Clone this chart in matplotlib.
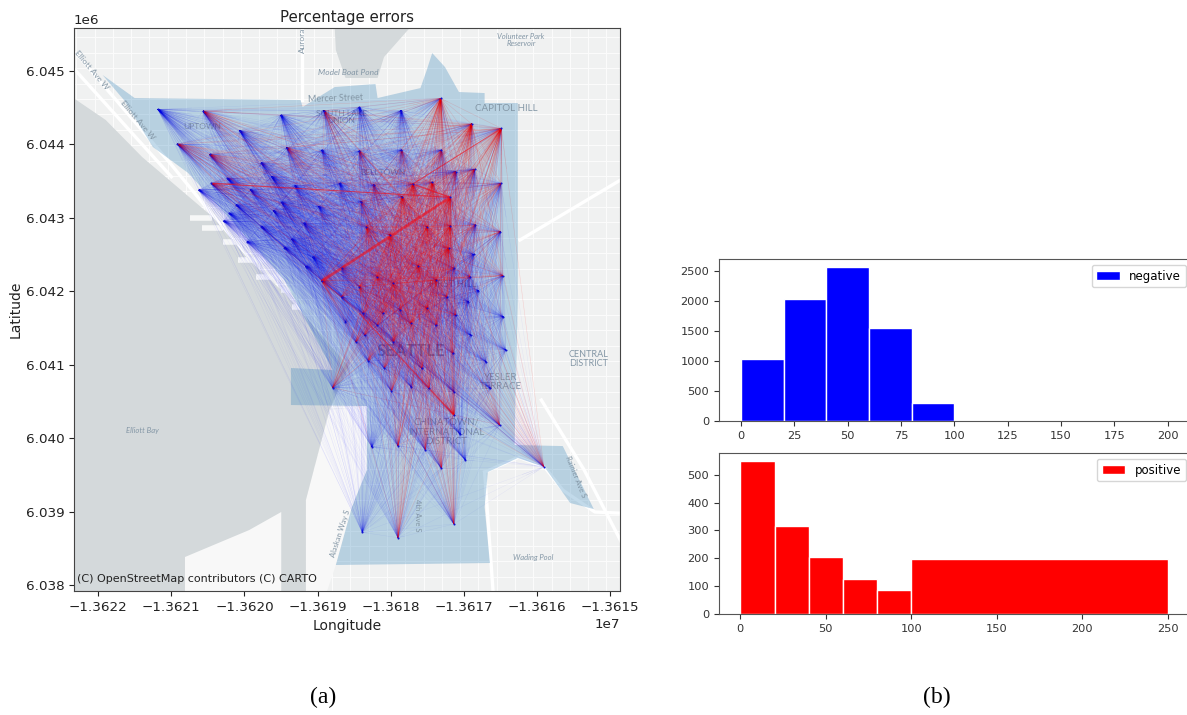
import numpy as np
import matplotlib
matplotlib.use("Agg")
import matplotlib.pyplot as plt
from matplotlib.collections import LineCollection
from matplotlib.patches import Polygon

W, H = 1187, 715

# station nodes (web mercator metres), err 0/1/2 = how much the station shows positive error
node_lon = [-13621185, -13620566, -13619502, -13618911, -13618428, -13617857, -13617316, -13620063, -13616891, -13616486,
            -13620917, -13620478, -13619419, -13618941, -13618428, -13617852, -13617306, -13619770, -13617111, -13616852,
            -13620453, -13620624, -13620234, -13619917, -13619624, -13619307, -13618697, -13618233, -13617696, -13617428,
            -13616491, -13620112, -13619492, -13618980, -13618404, -13617843, -13617184, -13620209, -13620283, -13619599,
            -13619185, -13619770, -13619965, -13619355, -13619453, -13619063, -13619160, -13618941, -13618672, -13618013,
            -13617501, -13617184, -13616842, -13616501, -13618331, -13617208, -13616867, -13617623, -13617135, -13616915,
            -13616466, -13617379, -13617233, -13616940, -13616803, -13617501, -13617111, -13616462, -13618428, -13618184,
            -13618672, -13617867, -13618379, -13617965, -13618794, -13618306, -13618087, -13617574, -13617965, -13617721,
            -13617379, -13617145, -13616906, -13616696, -13616427, -13617135, -13617989, -13617721, -13617477, -13617135,
            -13616637, -13616510, -13618257, -13617901, -13617525, -13617306, -13617047, -13616979, -13615905, -13618389,
            -13617901, -13617135, -13618477, -13618355, -13618184, -13618623, -13618111]
node_lat = [6044478, 6044456, 6044401, 6044460, 6044506, 6044460, 6044628, 6044188, 6044279, 6044219,
            6044006, 6043865, 6043956, 6043924, 6043911, 6043924, 6043924, 6043752, 6043629, 6043661,
            6043470, 6043380, 6043538, 6043380, 6043561, 6043439, 6043470, 6043448, 6043461, 6043484,
            6043470, 6043175, 6043212, 6043153, 6043221, 6043289, 6043280, 6043062, 6042957, 6043094,
            6042926, 6042880, 6042676, 6042708, 6042594, 6042463, 6042335, 6042140, 6042313, 6042767,
            6042880, 6042889, 6042903, 6042812, 6042880, 6042585, 6042503, 6042344, 6042313, 6042199,
            6042213, 6042154, 6041927, 6041859, 6042009, 6041768, 6041677, 6041654, 6042063, 6042199,
            6041927, 6041745, 6041700, 6042108, 6040687, 6041050, 6040950, 6040950, 6041313, 6041563,
            6041540, 6041155, 6041404, 6041041, 6041200, 6040632, 6040642, 6040701, 6040678, 6040315,
            6040678, 6040178, 6039883, 6039897, 6039838, 6039588, 6040051, 6039702, 6039611, 6038717,
            6038644, 6038830, 6041313, 6041404, 6041540, 6041586, 6041699]
node_err = [0, 1, 0, 1, 0, 0, 2, 0, 2, 2,
            1, 1, 1, 0, 1, 1, 1, 0, 1, 1,
            1, 0, 0, 0, 0, 0, 0, 1, 2, 2,
            1, 0, 0, 0, 1, 2, 2, 0, 0, 0,
            0, 0, 0, 0, 0, 0, 0, 2, 1, 2,
            2, 2, 1, 1, 2, 2, 0, 2, 1, 1,
            1, 2, 1, 0, 0, 2, 1, 0, 2, 2,
            1, 1, 1, 2, 1, 1, 1, 1, 1, 2,
            1, 1, 0, 0, 0, 0, 1, 0, 1, 2,
            0, 1, 0, 1, 1, 1, 0, 0, 1, 0,
            1, 1, 1, 1, 1, 0, 1]

# links that stand out on the map
strong_a = [(-13617184, 6043280), (-13617184, 6043280), (-13616486, 6044219), (-13620453, 6043470), (-13617135, 6040315)]
strong_b = [(-13618941, 6042140), (-13617696, 6043461), (-13617696, 6043461), (-13617184, 6043280), (-13618428, 6041700)]
strong_w = [2.0, 1.0, 0.8, 0.8, 0.8]

# basemap
water_lon = [-13622400, -13621898, -13621400, -13620917, -13620434, -13619936, -13619453, -13618970, -13618574, -13618838, -13619160, -13619160, -13622400]
water_lat = [6044673, 6044333, 6043829, 6043420, 6043011, 6042426, 6041976, 6041432, 6040968, 6040383, 6039157, 6037918, 6037918]
lake_lon = [-13618765, -13617740, -13618091, -13618179, -13618618, -13618750]
lake_lat = [6045586, 6045586, 6045191, 6044905, 6044905, 6045286]
island_lon = [-13620814, -13619936, -13619497, -13619497, -13620814]
island_lat = [6038381, 6038748, 6038994, 6037918, 6037918]
port_lon = [-13619160, -13619160, -13618838, -13618325, -13618325, -13618530, -13618750, -13618870]
port_lat = [6037918, 6039157, 6040383, 6040437, 6039566, 6039062, 6038272, 6037918]
zone_lon = [-13621941, -13621502, -13619233, -13619204, -13618765, -13618208, -13618179, -13617593, -13617506, -13617432,
            -13617257, -13617066, -13616715, -13616715, -13616261, -13616261, -13616305, -13615646, -13615222, -13615544,
            -13615895, -13616261, -13616671, -13616715, -13616642, -13618750, -13618530, -13618325, -13618325, -13619365,
            -13619365, -13618794, -13619453, -13620185, -13620770, -13621253, -13621649]
zone_lat = [6044946, 6044632, 6044605, 6044510, 6044782, 6044823, 6044632, 6044768, 6045014, 6045245,
            6045054, 6044714, 6044700, 6044564, 6044564, 6041881, 6039906, 6039892, 6039034, 6039116,
            6039606, 6039729, 6039538, 6039062, 6038299, 6038272, 6039062, 6039566, 6040437, 6040451,
            6040955, 6040928, 6042153, 6042971, 6043611, 6043965, 6044605]
piers = [(-13620741, -13620440, 6042998), (-13620580, -13620300, 6042862), (-13620287, -13620038, 6042671),
         (-13620082, -13619702, 6042426), (-13619848, -13619453, 6042194), (-13619497, -13619262, 6042017),
         (-13619350, -13619057, 6041786)]
big_roads = [([-13622307, -13621019, -13619936], [6045245, 6043747, 6042426]),
             ([-13622322, -13621000], [6045020, 6043560]),
             ([-13619218, -13619218], [6045586, 6044605]),
             ([-13616232, -13614329], [6042698, 6043829]),
             ([-13615939, -13615353, -13614500], [6040519, 6039566, 6037918]),
             ([-13616715, -13616250, -13615895, -13615646, -13615207, -13614329], [6039538, 6039740, 6039606, 6039293, 6038994, 6038953]),
             ([-13616715, -13616600], [6039538, 6037918])]

labels = ["Mercer Street", "CAPITOL HILL", "UPTOWN", "SOUTH LAKE\nUNION", "Model Boat Pond", "Volunteer Park\nReservoir",
          "Aurora", "FIRST HILL", "BELLTOWN", "SEATTLE", "YESLER\nTERRACE", "CENTRAL\nDISTRICT",
          "CHINATOWN/\nINTERNATIONAL\nDISTRICT", "Elliott Bay", "Wading Pool", "Elliott Ave W", "Elliott Ave W",
          "Alaskan Way S", "4th Ave S", "Rainier Ave S"]
label_lon = [-13618750, -13616422, -13620580, -13618677, -13618574, -13616217, -13619204, -13617154, -13618106, -13617725,
             -13616495, -13615295, -13617242, -13621400, -13616056, -13622088, -13621458, -13618691, -13617630, -13615471]
label_lat = [6044632, 6044496, 6044251, 6044373, 6044986, 6045422, 6045422, 6042099, 6043624, 6041186,
             6040764, 6041077, 6040083, 6040110, 6038381, 6045014, 6044333, 6038708, 6038950, 6039470]
label_size = [6.5, 7, 6, 6, 6, 5.5, 6, 7, 6, 12, 7, 6.5, 7, 5.5, 5.5, 6, 6, 5.5, 5.5, 5.5]
label_rot = [2, 0, 0, 0, 0, 0, 90, 0, 0, 0, 0, 0, 0, 0, 0, -50, -50, 72, -90, -68]
label_italic = [0, 0, 0, 0, 1, 1, 0, 0, 0, 0, 0, 0, 0, 1, 1, 0, 0, 0, 0, 0]

lon_ticks = [-13622000, -13621000, -13620000, -13619000, -13618000, -13617000, -13616000, -13615000]
lat_ticks = [6038000, 6039000, 6040000, 6041000, 6042000, 6043000, 6044000, 6045000]

# histograms
neg_edges = [0, 20, 40, 60, 80, 100, 200]
neg_counts = [1030, 2030, 2565, 1555, 305, 0]
pos_edges = [0, 20, 40, 60, 80, 100, 250]
pos_counts = [550, 316, 203, 125, 86, 197]

plt.rcParams["font.family"] = "DejaVu Sans"


def axes_px(left, top, right, bottom):
    return [left / W, 1 - bottom / H, (right - left) / W, (bottom - top) / H]


fig = plt.figure(figsize=(W / 100, H / 100), dpi=100)

# map
ax = fig.add_axes(axes_px(74, 28, 620, 591))
ax.set_facecolor("#f0f1f1")

for x in np.arange(-13622300, -13614300, 250):
    ax.plot([x, x], [6037900, 6045600], color="#fbfbfb", lw=0.8, zorder=1)
for y in np.arange(6037900, 6045600, 210):
    ax.plot([-13622400, -13614300], [y, y], color="#fbfbfb", lw=0.8, zorder=1)
for rx, ry in big_roads:
    ax.plot(rx, ry, color="white", lw=2.4, zorder=1.5)

ax.add_patch(Polygon(np.column_stack([port_lon, port_lat]), fc="#f8f8f8", ec="none", zorder=1.8))
ax.add_patch(Polygon(np.column_stack([water_lon, water_lat]), fc="#d4d9db", ec="none", zorder=2))
ax.add_patch(Polygon(np.column_stack([lake_lon, lake_lat]), fc="#d4d9db", ec="none", zorder=2))
ax.add_patch(Polygon(np.column_stack([island_lon, island_lat]), fc="#f8f8f8", ec="none", zorder=2.5))
for x0, x1, y in piers:
    ax.plot([x0, x1], [y, y], color="#f6f7f7", lw=4, solid_capstyle="butt", zorder=2.5)
ax.add_patch(Polygon(np.column_stack([zone_lon, zone_lat]), fc="#1f77b4", alpha=0.27, ec="none", zorder=3))

for t, x, y, s, r, it in zip(labels, label_lon, label_lat, label_size, label_rot, label_italic):
    ax.text(x, y, t, fontsize=s, rotation=r, ha="center", va="center", color="#8497a6",
            style="italic" if it else "normal", fontweight="bold" if s >= 12 else "normal",
            family="Lato", linespacing=1.1, zorder=4)

# od lines, plus short stubs so the fans look darker at each station
blue_segs = []
red_segs = []
blue_stubs = []
red_stubs = []
n = len(node_lon)
for i in range(n):
    for j in range(i + 1, n):
        a = (node_lon[i], node_lat[i])
        b = (node_lon[j], node_lat[j])
        stub = [a, (a[0] + 0.12 * (b[0] - a[0]), a[1] + 0.12 * (b[1] - a[1]))]
        if node_err[i] + node_err[j] >= 3:
            red_segs.append([a, b])
            red_stubs.append(stub)
        else:
            blue_segs.append([a, b])
            blue_stubs.append(stub)
ax.add_collection(LineCollection(blue_segs, colors="#0000ff", linewidths=0.35, alpha=0.055, zorder=5))
ax.add_collection(LineCollection(blue_stubs, colors="#0000e0", linewidths=0.35, alpha=0.07, zorder=5))
ax.add_collection(LineCollection(red_segs, colors="#ff0000", linewidths=0.4, alpha=0.14, zorder=6))
ax.add_collection(LineCollection(red_stubs, colors="#f00000", linewidths=0.4, alpha=0.08, zorder=6))
strong = [[a, b] for a, b in zip(strong_a, strong_b)]
ax.add_collection(LineCollection(strong, colors="#ee1020", linewidths=strong_w, alpha=0.6, zorder=7))
ax.scatter(node_lon, node_lat, s=2.2, color="#1010d0", linewidths=0, zorder=8)

ax.set_xlim(-13622332, -13614863)
ax.set_ylim(6037918, 6045586)
ax.set_xticks(lon_ticks)
ax.set_yticks(lat_ticks)
ax.ticklabel_format(useOffset=False, style="sci", scilimits=(0, 0))
ax.tick_params(labelsize=9.7, colors="#222222")
ax.xaxis.get_offset_text().set_fontsize(9.7)
ax.yaxis.get_offset_text().set_fontsize(9.7)
ax.set_xlabel("Longitude", fontsize=10, color="#222222")
ax.set_ylabel("Latitude", fontsize=10, color="#222222", labelpad=2)
ax.set_title("Percentage errors", fontsize=10.8, color="#222222", pad=4)
ax.text(0.005, 0.012, "(C) OpenStreetMap contributors (C) CARTO", transform=ax.transAxes, fontsize=8,
        color="#222222", zorder=9, va="bottom")
for s in ax.spines.values():
    s.set_color("#444444")

# histograms
ax1 = fig.add_axes(axes_px(719, 259, 1189, 421))
ax1.bar(neg_edges[:-1], neg_counts, width=np.diff(neg_edges), align="edge", color="#0000ff", edgecolor="white",
        linewidth=1, label="negative")
ax1.set_xlim(-10.3, 210)
ax1.set_ylim(0, 2695)
ax1.set_xticks([0, 25, 50, 75, 100, 125, 150, 175, 200])
ax1.legend(loc="upper right", fontsize=8.5, bbox_to_anchor=(1.006, 1.0))

ax2 = fig.add_axes(axes_px(719, 453, 1189, 614))
ax2.bar(pos_edges[:-1], pos_counts, width=np.diff(pos_edges), align="edge", color="#ff0000", edgecolor="white",
        linewidth=1, label="positive")
ax2.set_xlim(-12.5, 262.5)
ax2.set_ylim(0, 578)
ax2.set_xticks([0, 50, 100, 150, 200, 250])
ax2.legend(loc="upper right", fontsize=8.5, bbox_to_anchor=(1.006, 1.0))

for a in (ax1, ax2):
    a.tick_params(labelsize=8.2, colors="#333333")
    for s in a.spines.values():
        s.set_color("#555555")

fig.text(323 / W, 1 - 697 / H, "(a)", family="Liberation Serif", fontsize=17, ha="center", va="center")
fig.text(937 / W, 1 - 697 / H, "(b)", family="Liberation Serif", fontsize=17, ha="center", va="center")

fig.savefig("out.png", dpi=100)
